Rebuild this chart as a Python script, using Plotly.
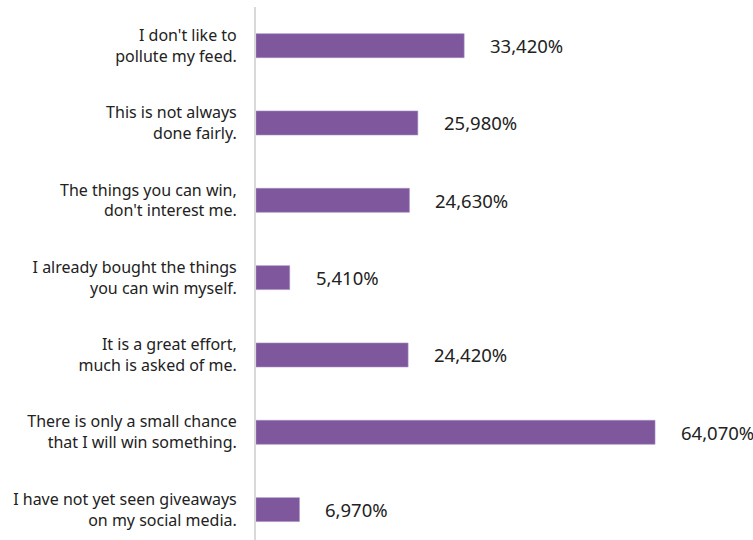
import plotly.graph_objects as go

# Survey reasons, top to bottom
reasons = [
    "I don't like to<br>pollute my feed.",
    "This is not always<br>done fairly.",
    "The things you can win,<br>don't interest me.",
    "I already bought the things<br>you can win myself.",
    "It is a great effort,<br>much is asked of me.",
    "There is only a small chance<br>that I will win something.",
    "I have not yet seen giveaways<br>on my social media.",
]
shares = [33.42, 25.98, 24.63, 5.41, 24.42, 64.07, 6.97]

bar_color = "#7e579c"
text_color = "#222222"
font_family = "'Noto Sans', 'Source Sans Pro', Lato, sans-serif"


def pct_label(v):
    return f"{v:.3f}".replace(".", ",") + "%"


fig = go.Figure(
    go.Bar(
        x=shares,
        y=reasons,
        orientation="h",
        width=0.31,
        marker=dict(color=bar_color, line=dict(color="#a58cc0", width=0.6)),
        hoverinfo="skip",
    )
)

for r, v in zip(reasons, shares):
    fig.add_annotation(
        x=v, y=r, text=pct_label(v), showarrow=False,
        xanchor="left", yanchor="middle", xshift=24,
        font=dict(size=18.5, color=text_color, family=font_family),
    )

fig.update_layout(
    width=753, height=540,
    margin=dict(l=256, r=0, t=7, b=0),
    paper_bgcolor="white", plot_bgcolor="white",
    showlegend=False,
    font=dict(family=font_family, color=text_color),
)
fig.update_xaxes(
    range=[0, 79.8], visible=False, showgrid=False, zeroline=False,
)
fig.update_yaxes(
    categoryorder="array", categoryarray=reasons,
    range=[6.393, -0.5],
    showline=True, linecolor="#d9d9d9", linewidth=2,
    showgrid=False, zeroline=False, ticks="",
    ticklabelstandoff=14,
    tickfont=dict(size=16, color=text_color, family=font_family),
)

fig.write_html("out.html")
